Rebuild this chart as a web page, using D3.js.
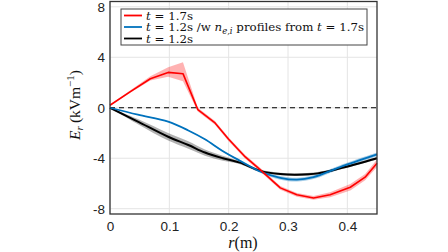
<!DOCTYPE html>
<html lang="en">
<head>
    <meta charset="UTF-8">
    <script src="https://cdn.jsdelivr.net/npm/d3@7"></script>
    <title>Er profiles</title>
    <style>
        body { margin: 0; background: white; }
        .tick text { font-family: "Liberation Sans", Arial, sans-serif; font-size: 13.5px; fill: #222; }
        .math { font-family: "Liberation Serif", "DejaVu Serif", serif; }
        .legtxt { font-family: "DejaVu Serif", serif; }
    </style>
</head>
<body>
    <div class="fig"></div>
    <script>
        // t = 1.7s (red)
        const rRed   = [0, 0.035, 0.068, 0.098, 0.123, 0.148, 0.177, 0.2, 0.228, 0.253, 0.287, 0.315, 0.343, 0.371, 0.405, 0.43, 0.45];
        const erRed  = [0.2, 1.3, 2.3, 2.8, 2.7, -0.15, -1.2, -2.5, -3.9, -4.9, -6.35, -6.9, -7.15, -6.9, -6.3, -5.5, -4.4];
        const redLo  = [0.15, 1.2, 2.15, 2.45, 2.1, -0.3, -1.35, -2.65, -4.05, -5.05, -6.5, -7.05, -7.3, -7.1, -6.55, -5.75, -4.7];
        const redHi  = [0.25, 1.4, 2.5, 3.2, 3.6, 0.0, -1.05, -2.35, -3.75, -4.75, -6.2, -6.75, -7.0, -6.7, -6.05, -5.25, -4.1];

        // t = 1.2s with n_e,i from 1.7s (blue)
        const rBlue  = [0, 0.047, 0.098, 0.132, 0.16, 0.189, 0.219, 0.253, 0.287, 0.315, 0.343, 0.388, 0.45];
        const erBlue = [0, -0.55, -1.1, -1.8, -2.5, -3.4, -4.2, -5.05, -5.55, -5.7, -5.5, -4.7, -3.7];
        const blueD  = [0, 0.03, 0.03, 0.03, 0.03, 0.05, 0.08, 0.1, 0.15, 0.15, 0.15, 0.15, 0.15];

        // t = 1.2s (black)
        const rBlack  = [0, 0.047, 0.098, 0.132, 0.16, 0.19, 0.219, 0.253, 0.287, 0.315, 0.35, 0.388, 0.45];
        const erBlack = [0, -1.1, -2.3, -2.95, -3.55, -4.0, -4.35, -5.0, -5.25, -5.3, -5.2, -4.8, -4.0];
        const blackD  = [0, 0.2, 0.3, 0.3, 0.25, 0.2, 0.12, 0.1, 0.1, 0.1, 0.1, 0.1, 0.1];

        const xTicks = [0, 0.1, 0.2, 0.3, 0.4];
        const yTicks = [-8, -4, 0, 4, 8];

        const width = 448, height = 252;
        const mLeft = 110, mRight = 377, mTop = 1.5, mBottom = 214;

        const svg = d3.select(".fig").append("svg")
            .attr("width", width)
            .attr("height", height);

        const x = d3.scaleLinear().domain([0, 0.45]).range([mLeft, mRight]);
        const y = d3.scaleLinear().domain([-8.42, 8.42]).range([mBottom, mTop]);

        // grid
        svg.append("g").selectAll("line").data(xTicks).enter().append("line")
            .attr("x1", d => x(d)).attr("x2", d => x(d))
            .attr("y1", mTop).attr("y2", mBottom)
            .attr("stroke", "#e4e4e4").attr("stroke-width", 1);
        svg.append("g").selectAll("line").data(yTicks).enter().append("line")
            .attr("x1", mLeft).attr("x2", mRight)
            .attr("y1", d => y(d)).attr("y2", d => y(d))
            .attr("stroke", "#e4e4e4").attr("stroke-width", 1);

        // zero line
        svg.append("line")
            .attr("x1", mLeft).attr("x2", mRight)
            .attr("y1", y(0)).attr("y2", y(0))
            .attr("stroke", "black").attr("stroke-width", 1.2)
            .attr("stroke-dasharray", "5,4");

        const smooth = d3.curveCatmullRom.alpha(0.5);

        const band = (rs, lo, hi, fill, curve) => {
            const area = d3.area()
                .x((d, i) => x(rs[i]))
                .y0((d, i) => y(lo[i]))
                .y1((d, i) => y(hi[i]))
                .curve(curve);
            svg.append("path").datum(rs).attr("d", area)
                .attr("fill", fill).attr("stroke", "none");
        };
        const line = (rs, es, color, curve, w) => {
            const gen = d3.line().x((d, i) => x(rs[i])).y((d, i) => y(es[i])).curve(curve);
            svg.append("path").datum(rs).attr("d", gen)
                .attr("fill", "none").attr("stroke", color).attr("stroke-width", w)
                .attr("stroke-linejoin", "round");
        };

        band(rBlack, erBlack.map((e, i) => e - blackD[i]), erBlack.map((e, i) => e + blackD[i]), "rgba(0,0,0,0.3)", smooth);
        band(rBlue, erBlue.map((e, i) => e - blueD[i]), erBlue.map((e, i) => e + blueD[i]), "rgba(0,114,189,0.35)", smooth);
        band(rRed, redLo, redHi, "rgba(255,0,0,0.3)", d3.curveLinear);

        line(rBlack, erBlack, "black", smooth, 2);
        line(rBlue, erBlue, "#0072bd", smooth, 1.8);
        line(rRed, erRed, "#ff0000", d3.curveLinear, 1.6);

        // axes
        svg.append("g").attr("transform", `translate(0,${mBottom})`)
            .call(d3.axisBottom(x).tickValues(xTicks).tickFormat(d => String(d)).tickSize(0).tickPadding(7))
            .call(g => g.select(".domain").remove());
        svg.append("g").attr("transform", `translate(${mLeft},0)`)
            .call(d3.axisLeft(y).tickValues(yTicks).tickFormat(d => String(d)).tickSize(0).tickPadding(5))
            .call(g => g.select(".domain").remove());

        // frame
        svg.append("rect")
            .attr("x", mLeft).attr("y", mTop)
            .attr("width", mRight - mLeft).attr("height", mBottom - mTop)
            .attr("fill", "none").attr("stroke", "#333").attr("stroke-width", 1.3);

        // legend
        const leg = svg.append("g");
        leg.append("rect").attr("x", 121).attr("y", 9).attr("width", 246).attr("height", 36)
            .attr("fill", "white").attr("stroke", "#444").attr("stroke-width", 1);
        const legItems = [
            { color: "#ff0000", parts: [["t", "italic"], [" = 1.7s", "normal"]] },
            { color: "#0072bd", parts: [["t", "italic"], [" = 1.2s /w ", "normal"], ["n", "italic"], ["e,i", "sub"], [" profiles from ", "normal"], ["t", "italic"], [" = 1.7s", "normal"]] },
            { color: "black", parts: [["t", "italic"], [" = 1.2s", "normal"]] }
        ];
        legItems.forEach((it, i) => {
            const yy = 15.5 + i * 11.5;
            leg.append("line").attr("x1", 124).attr("x2", 142).attr("y1", yy).attr("y2", yy)
                .attr("stroke", it.color).attr("stroke-width", 1.8);
            const t = leg.append("text").attr("class", "legtxt").attr("x", 146).attr("y", yy + 4)
                .attr("font-size", 11.8).attr("fill", "#111");
            let sub = false;
            it.parts.forEach(p => {
                const ts = t.append("tspan").text(p[0]).attr("xml:space", "preserve");
                if (p[1] === "italic") ts.attr("font-style", "italic");
                if (p[1] === "sub") {
                    ts.attr("font-style", "italic").attr("font-size", 8.5).attr("dy", 3);
                    sub = true;
                } else if (sub) {
                    ts.attr("dy", -3);
                    sub = false;
                }
            });
        });

        // axis titles
        const xt = svg.append("text").attr("class", "math").attr("x", 243).attr("y", 248)
            .attr("text-anchor", "middle").attr("font-size", 16).attr("fill", "#111");
        xt.append("tspan").text("r").attr("font-style", "italic");
        xt.append("tspan").text("(m)");

        const yt = svg.append("text").attr("class", "math")
            .attr("transform", "translate(80,105) rotate(-90)")
            .attr("text-anchor", "middle").attr("font-size", 15.5).attr("fill", "#111");
        yt.append("tspan").text("E").attr("font-style", "italic");
        yt.append("tspan").text("r").attr("font-style", "italic").attr("font-size", 11).attr("dy", 3);
        yt.append("tspan").text("\u2009(kVm").attr("dy", -3);
        yt.append("tspan").text("−1").attr("font-size", 11).attr("dy", -6);
        yt.append("tspan").text(")").attr("dy", 6);
    </script>
</body>
</html>
